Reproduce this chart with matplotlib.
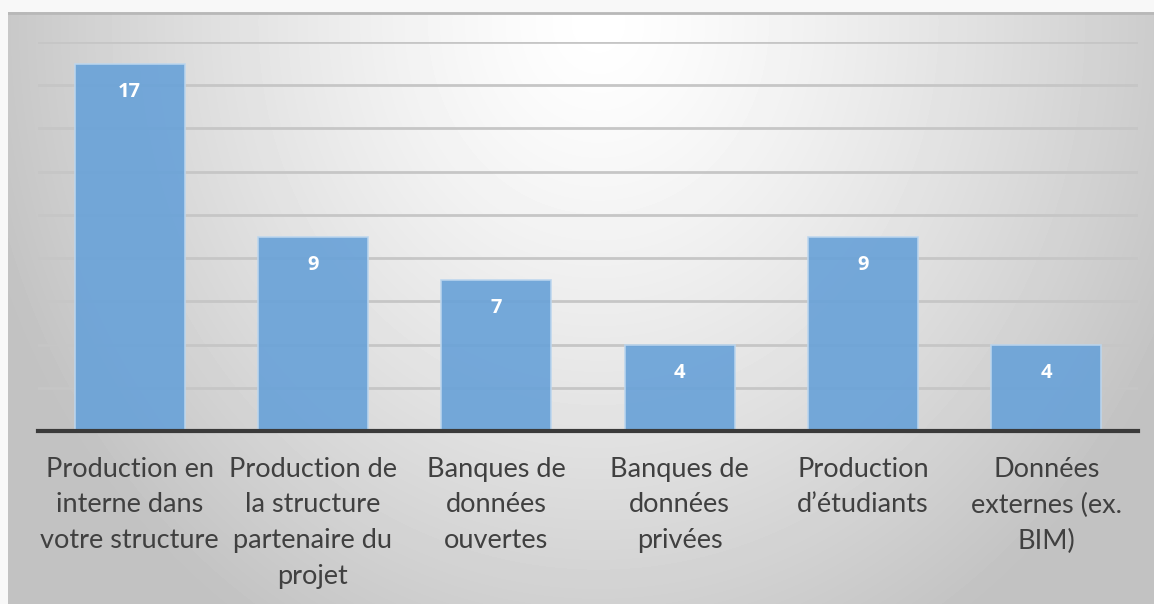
import numpy as np
import matplotlib
matplotlib.use("Agg")
import matplotlib.pyplot as plt

categories = [
    "Production en\ninterne dans\nvotre structure",
    "Production de\nla structure\npartenaire du\nprojet",
    "Banques de\ndonnées\nouvertes",
    "Banques de\ndonnées\nprivées",
    "Production\nd\u2019étudiants",
    "Données\nexternes (ex.\nBIM)",
]
values = [17, 9, 7, 4, 9, 4]

plt.rcParams['font.family'] = ['Lato', 'DejaVu Sans']

W, H = 1154, 604
fig = plt.figure(figsize=(W / 100, H / 100), dpi=100)
fig.patch.set_facecolor('#f8f8f8')

# gradient background panel
bg = fig.add_axes([8 / W, 0, (W - 8) / W, (H - 12) / H])
bg.set_axis_off()
yy, xx = np.mgrid[0:H - 12, 0:W - 8]
d = np.sqrt(((xx - 590) / 640.0) ** 2 + ((yy - 10) / 720.0) ** 2)
shade = 1.0 - 0.24 * np.clip(d, 0, 1) ** 1.3
bg.imshow(shade, cmap='gray', vmin=0, vmax=1, aspect='auto',
          interpolation='bilinear')
bg.axhline(0, color='#b8b8b8', lw=2)

# plot area
ax = fig.add_axes([38 / W, (H - 431) / H, 1100 / W, 389 / H])
ax.patch.set_alpha(0)
x = np.arange(len(values))
ax.set_xlim(-0.5, len(values) - 0.5)
ax.set_ylim(0, 18)
ax.set_yticks(np.arange(2, 19, 2))
ax.yaxis.grid(True, color='#c6c6c6', lw=2)
ax.set_axisbelow(True)
bars = ax.bar(x, values, width=0.6, color='#6ba3d8', alpha=0.93,
              edgecolor='#bcd6ee', linewidth=1.2, zorder=2)
for xi, v in zip(x, values):
    ax.text(xi, v - 1.3, str(v), ha='center', va='center', color='white',
            fontsize=14.5, fontweight='bold', family='Open Sans', zorder=3)

for s in ['top', 'right', 'left']:
    ax.spines[s].set_visible(False)
ax.spines['bottom'].set_color('#3a3a3a')
ax.spines['bottom'].set_linewidth(3)
ax.tick_params(left=False, labelleft=False, bottom=False)
ax.set_xticks(x)
ax.set_xticklabels(categories, fontsize=19.5, color='#404040',
                   linespacing=1.54)
ax.tick_params(axis='x', pad=15)

fig.savefig('out.png', dpi=100, facecolor=fig.get_facecolor())
